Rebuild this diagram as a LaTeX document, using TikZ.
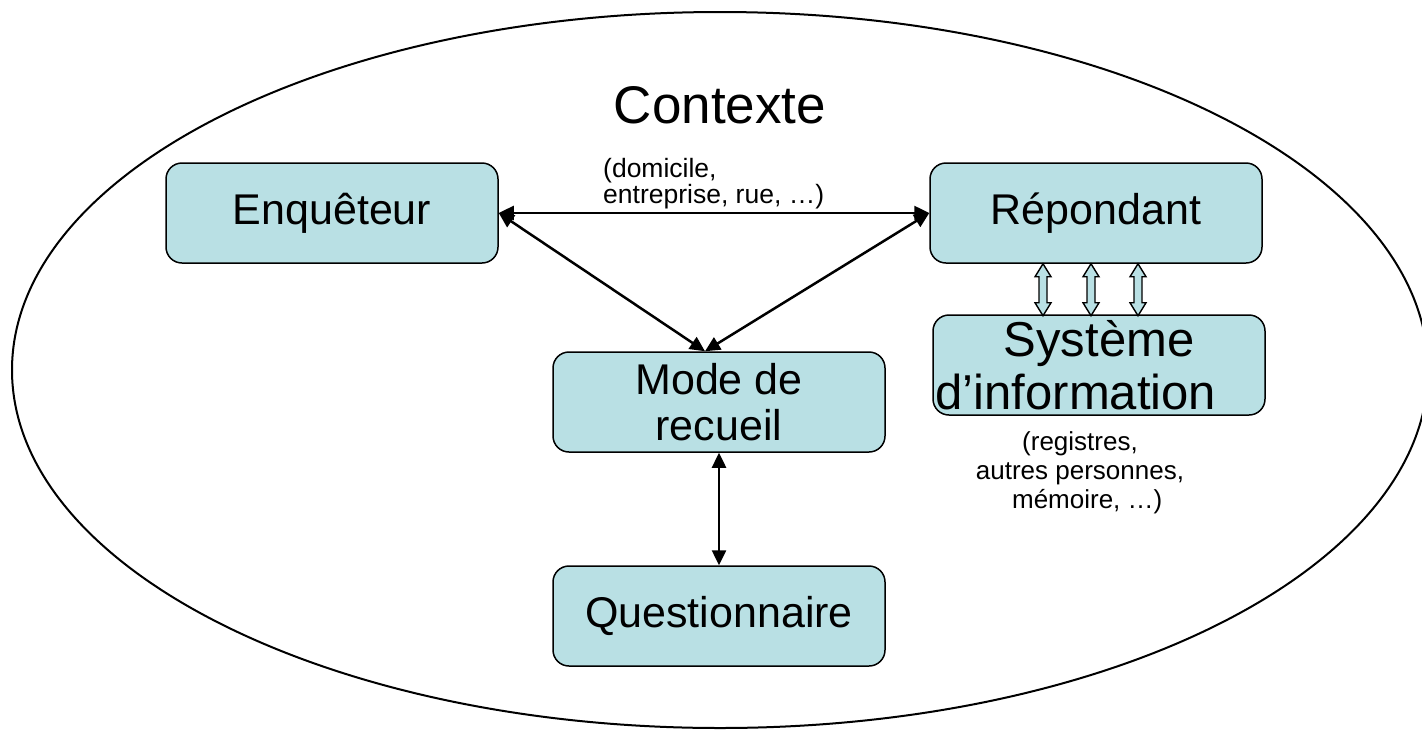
\documentclass[tikz,border=0pt]{standalone}
\usepackage{fontspec}
\setmainfont{Liberation Sans}
\usetikzlibrary{arrows.meta,calc}
\definecolor{boxfill}{RGB}{185,224,228}
\tikzset{
  box/.style={draw=black, line width=1.5pt, fill=boxfill, rounded corners=16pt,
    minimum width=332pt, minimum height=100pt, inner sep=0pt, align=center,
    font=\fontsize{43}{46}\selectfont},
  dbl/.style={line width=2.5pt, {Triangle[length=15pt,width=14pt]}-{Triangle[length=15pt,width=14pt]}},
  blockarrow/.style={draw=black, line width=1.4pt, fill=boxfill, line join=miter},
  small/.style={font=\fontsize{26}{29}\selectfont, align=center, inner sep=0pt}
}
\begin{document}
\begin{tikzpicture}[x=1pt,y=-1pt]
\useasboundingbox (0,0) rectangle (1422,729);
\clip (0,0) rectangle (1422,729);
\draw[line width=2pt] (720,370) ellipse [x radius=708, y radius=358];
\node (ctx) at (720,105) {\fontsize{53}{56}\selectfont Contexte};
\node[small, align=left, anchor=north west, font=\fontsize{26.5}{23}\selectfont] (ctxnote) at (603,158) {(domicile,\\entreprise, rue, …)};
\node[box] (enq) at (332,213) {Enquêteur};
\node[box] (rep) at (1096,213) {Répondant};
\node[box] (mode) at (719,402) {Mode de\\recueil};
\node[box] (quest) at (719,616) {Questionnaire};
\node[box, font=\fontsize{49}{53}\selectfont] (sys) at (1099,365) {Système\\d’information\hspace*{46pt}};
\node[small, anchor=north] (sysnote) at (1080,431) {(registres,\\autres personnes,\\\ \ mémoire, …)};
\coordinate (mtop) at ($(mode.north)+(-14,0)$);
\draw[dbl] (enq.east) -- (rep.west);
\draw[dbl] (enq.east) -- (mtop);
\draw[dbl] (mtop) -- (rep.west);
\draw[dbl] (mode.south) -- (quest.north);
\foreach \dx in {-53,-5,42}{
  \draw[blockarrow] ($(rep.south)+(\dx,0)$) -- ++(8,13) -- ++(-4,0) -- ++(0,26)
    -- ++(4,0) -- ++(-8,13) -- ++(-8,-13) -- ++(4,0) -- ++(0,-26) -- ++(-4,0) -- cycle;
}
\end{tikzpicture}
\end{document}
